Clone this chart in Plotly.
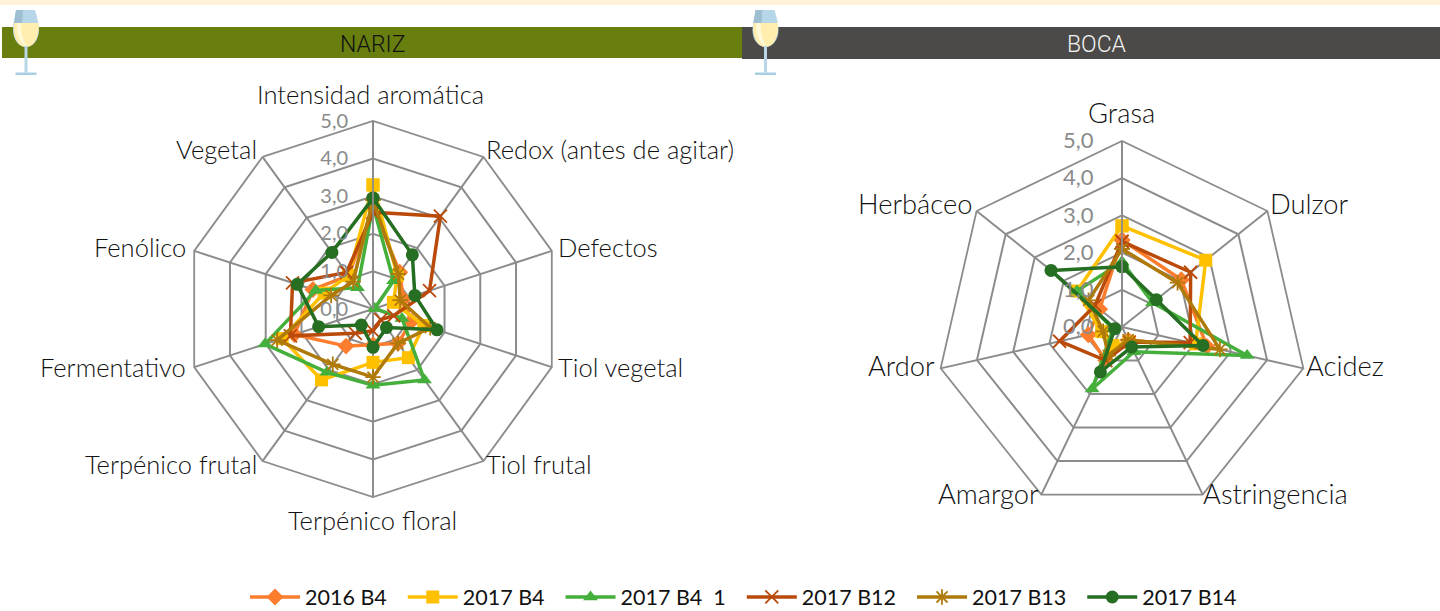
import plotly.graph_objects as go

W, H = 1440, 611

series_names = ['2016 B4', '2017 B4', '2017 B4\u00a0\u00a01', '2017 B12', '2017 B13', '2017 B14']
colors = ['#FB7D2D', '#FFC000', '#44AF3A', '#B94A0A', '#AF7A0A', '#256E22']
symbols = ['diamond', 'square', 'triangle-up', 'x-thin-open', 'asterisk-open', 'circle']

nariz_cats = ['Intensidad aromática', 'Redox (antes de agitar)', 'Defectos', 'Tiol vegetal', 'Tiol frutal',
              'Terpénico floral', 'Terpénico frutal', 'Fermentativo', 'Fenólico', 'Vegetal']
nariz_2016_b4 = [2.7, 1.21, 0.85, 1.07, 1.13, 0.95, 1.22, 2.2, 1.68, 1.1]
nariz_2017_b4 = [3.3, 1.1, 0.57, 1.42, 1.6, 1.42, 2.33, 2.54, 1.37, 1.1]
nariz_2017_b4_1 = [2.75, 0.93, 0.05, 0.81, 2.33, 2.03, 2.08, 3.02, 1.6, 0.7]
nariz_2017_b12 = [2.57, 3.05, 1.58, 0.58, 0.35, 0.58, 0.8, 2.31, 2.25, 1.2]
nariz_2017_b13 = [2.9, 1.15, 0.76, 1.6, 1.13, 1.81, 1.82, 2.68, 1.17, 0.9]
nariz_2017_b14 = [2.95, 1.78, 1.17, 1.79, 0.61, 1.02, 0.53, 1.52, 2.12, 1.86]

boca_cats = ['Grasa', 'Dulzor', 'Acidez', 'Astringencia', 'Amargor', 'Ardor', 'Herbáceo']
boca_2016_b4 = [2.34, 2.04, 2.34, 0.4, 1.0, 0.93, 0.77]
boca_2017_b4 = [2.72, 2.88, 2.03, 0.45, 0.55, 0.56, 1.55]
boca_2017_b4_1 = [1.75, 1.05, 3.45, 0.74, 1.85, 0.25, 1.55]
boca_2017_b12 = [2.3, 2.36, 1.88, 0.45, 1.0, 1.72, 0.93]
boca_2017_b13 = [2.1, 1.91, 2.7, 0.38, 0.85, 0.52, 1.15]
boca_2017_b14 = [1.62, 1.18, 2.23, 0.6, 1.34, 0.2, 2.44]

nariz = [nariz_2016_b4, nariz_2017_b4, nariz_2017_b4_1, nariz_2017_b12, nariz_2017_b13, nariz_2017_b14]
boca = [boca_2016_b4, boca_2017_b4, boca_2017_b4_1, boca_2017_b12, boca_2017_b13, boca_2017_b14]

radial_ticks = [0, 1, 2, 3, 4, 5]

GRID = '#8C8C8C'
FONT = 'Lato'

# where the category labels sit: x, y, anchor
nariz_label_pos = [(371, 94, 'center'), (485, 149, 'left'), (557, 247, 'left'), (557, 367, 'left'),
                   (485, 464, 'left'), (372, 520, 'center'), (258, 464, 'right'), (187, 367, 'right'),
                   (187, 247, 'right'), (258, 149, 'right')]
boca_label_pos = [(1121, 112, 'center'), (1269, 204, 'left'), (1305, 365, 'left'), (1202, 494, 'left'),
                  (1040, 494, 'right'), (936, 365, 'right'), (973, 204, 'right')]


def px(x):
    return x / W


def py(y):
    return 1 - y / H


fig = go.Figure()

for vals, cats, subplot, show in [(nariz, nariz_cats, 'polar', True), (boca, boca_cats, 'polar2', False)]:
    for name, v, c, s in zip(series_names, vals, colors, symbols):
        fig.add_trace(go.Scatterpolar(
            r=v + v[:1], theta=cats + cats[:1], name=name + '\u00a0\u00a0', subplot=subplot, showlegend=show,
            mode='lines+markers', line=dict(color=c, width=3.5),
            marker=dict(symbol=s, size=13, color=c, line=dict(color=c, width=1.8 if 'open' in s else 0))))


def polar_layout(cx, cy, r, tick_size, tick_gap):
    return dict(
        domain=dict(x=[px(cx - r), px(cx + r)], y=[py(cy + r), py(cy - r)]),
        gridshape='linear', bgcolor='white',
        radialaxis=dict(range=[0, 5], angle=90, side='counterclockwise', tickangle=90, tickvals=radial_ticks,
                        tickformat='.1f', tickfont=dict(family=FONT, size=tick_size, color='#8A8A8A'),
                        ticks='outside', ticklen=tick_gap, tickcolor='rgba(0,0,0,0)',
                        showline=True, linecolor=GRID, linewidth=1.8, gridcolor=GRID, gridwidth=1.8),
        angularaxis=dict(rotation=90, direction='clockwise', showticklabels=False, ticks='',
                         showline=True, linecolor=GRID, linewidth=1.8, gridcolor=GRID, gridwidth=1.8))


def rect(x0, y0, x1, y1, color):
    return dict(type='rect', xref='paper', yref='paper', x0=px(x0), x1=px(x1), y0=py(y1), y1=py(y0),
                fillcolor=color, line_width=0, layer='below')


def path(points, color, dx=0):
    # points are (cmd, x, y, x, y...) in pixels
    parts = []
    for p in points:
        coords = [f'{px(p[i] + dx):.5f},{py(p[i + 1]):.5f}' for i in range(1, len(p), 2)]
        parts.append(p[0] + ' '.join(coords))
    return dict(type='path', xref='paper', yref='paper', path=' '.join(parts) + ' Z',
                fillcolor=color, line_width=0, layer='above')


def glass(dx):
    bowl = [('M', 16, 10), ('L', 35, 10), ('C', 37, 17, 39, 24, 39, 30), ('C', 39, 40, 33, 47, 26, 47),
            ('C', 19, 47, 13, 40, 13, 30), ('C', 13, 24, 15, 17, 16, 10)]
    band = [('M', 16, 10), ('L', 23, 10), ('L', 22, 23), ('L', 14, 23)]
    wine = [('M', 14, 23), ('L', 38.5, 23), ('C', 39.5, 35, 35, 47, 26, 47), ('C', 17, 47, 12.5, 35, 14, 23)]
    shine = [('M', 17, 23), ('L', 21, 23), ('C', 21, 32, 23, 41, 27, 47), ('C', 21, 45, 16, 36, 17, 23)]
    return [path(bowl, '#B7D6E7', dx), path(band, '#9EBED2', dx), path(wine, '#FFEEAE', dx),
            path(shine, '#FFF8D8', dx),
            path([('M', 24.5, 46), ('L', 27.5, 46), ('L', 27.5, 72.5), ('L', 24.5, 72.5)], '#B7D6E7', dx),
            path([('M', 15.5, 72.5), ('L', 36.5, 72.5), ('L', 36.5, 75), ('L', 15.5, 75)], '#A9CDE1', dx)]


shapes = [rect(0, 0, W, 5, '#FFF2D9'), rect(2, 27, 742, 58, '#687F10'), rect(742, 27, W, 59, '#4B4A48')]
shapes += glass(0) + glass(739.5)

annotations = [
    dict(text='NARIZ', x=px(372), y=py(44), xanchor='center',
         font=dict(family='Roboto', weight=300, size=23, color='#111111')),
    dict(text='BOCA', x=px(1097), y=py(44), xanchor='center',
         font=dict(family='Roboto', weight=300, size=23, color='#F2F2F2')),
]
for cats, pos, size in [(nariz_cats, nariz_label_pos, 25.5), (boca_cats, boca_label_pos, 27.3)]:
    for cat, (x, y, anchor) in zip(cats, pos):
        annotations.append(dict(text=cat, x=px(x), y=py(y), xanchor=anchor,
                                font=dict(family=FONT, weight=300, size=size, color='#111111')))
for a in annotations:
    a.update(xref='paper', yref='paper', showarrow=False, yanchor='middle', borderpad=0)

fig.update_layout(
    width=W, height=H, autosize=False, margin=dict(l=0, r=0, t=0, b=0, autoexpand=False),
    paper_bgcolor='white', separators=',.',
    polar=polar_layout(373, 309, 188, 20, 17), polar2=polar_layout(1122, 327, 186, 22, 20),
    shapes=shapes, annotations=annotations,
    legend=dict(orientation='h', x=px(749), xanchor='center', y=py(597), yanchor='middle', itemwidth=50,
                font=dict(family=FONT, size=21.5, color='#111111'), bgcolor='rgba(0,0,0,0)'))

# the default page margin would push the 1440 wide figure out of the window
fig.write_html('out.html', config=dict(displayModeBar=False), post_script="document.body.style.margin='0';")
